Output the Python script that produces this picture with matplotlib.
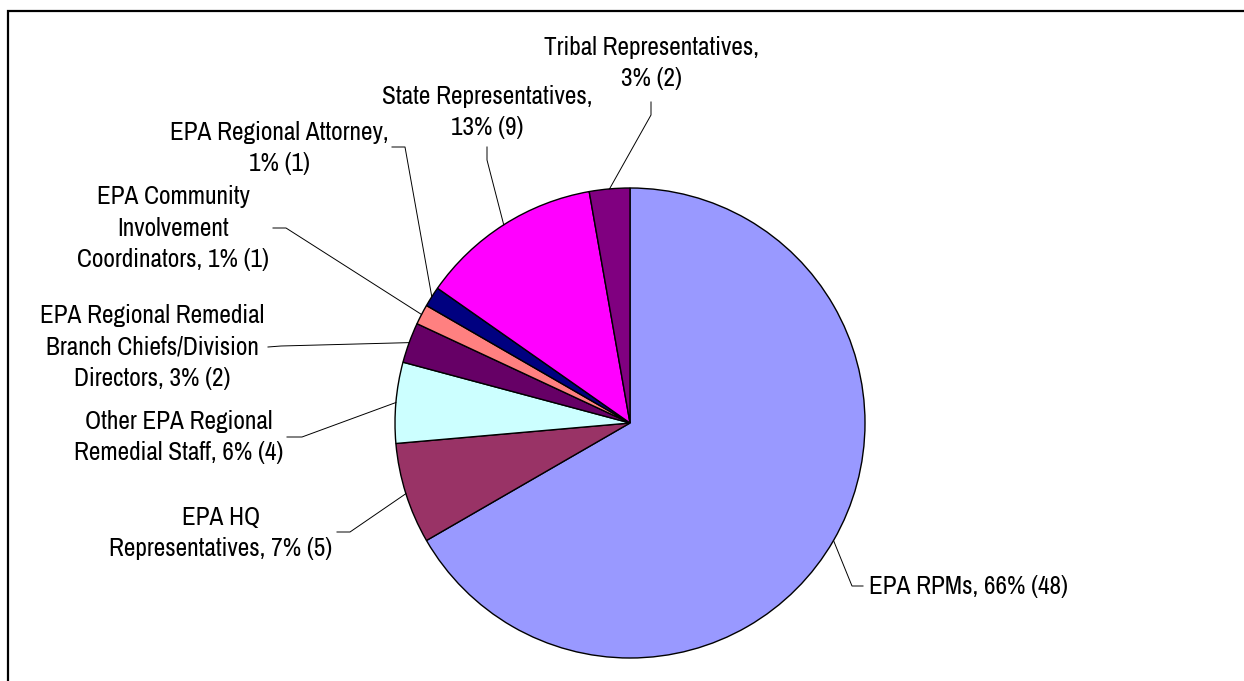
import numpy as np
import matplotlib
matplotlib.use('Agg')
import matplotlib.pyplot as plt
from matplotlib.patches import Rectangle

plt.rcParams['font.family'] = ['Archivo Narrow', 'DejaVu Sans']

# data
groups = ['EPA RPMs', 'EPA HQ Representatives', 'Other EPA Regional Remedial Staff',
          'EPA Regional Remedial Branch Chiefs/Division Directors',
          'EPA Community Involvement Coordinators', 'EPA Regional Attorney',
          'State Representatives', 'Tribal Representatives']
counts = [48, 5, 4, 2, 1, 1, 9, 2]
percents = [66, 7, 6, 3, 1, 1, 13, 3]
colors = ['#9999FF', '#993366', '#CCFFFF', '#660066', '#FF8080', '#000080', '#FF00FF', '#800080']

label_texts = [
    'EPA RPMs, 66% (48)',
    'EPA HQ\nRepresentatives, 7% (5)',
    'Other EPA Regional\nRemedial Staff, 6% (4)',
    'EPA Regional Remedial\nBranch Chiefs/Division\nDirectors, 3% (2)',
    'EPA Community\nInvolvement\nCoordinators, 1% (1)',
    'EPA Regional Attorney,\n1% (1)',
    'State Representatives,\n13% (9)',
    'Tribal Representatives,\n3% (2)',
]

# layout, in pixels measured from the top-left corner
W, H = 1244, 681
cx, cy, R = 630, 423, 235
# (text x, text y, ha, anchor point, elbow point)
layout = [
    (869, 586, 'left', (863, 586), (852, 586)),
    (221, 533, 'center', (337, 532), (350, 532)),
    (179, 437, 'center', (287, 437), (302, 437)),
    (152, 347, 'center', (268, 347), (281, 346)),
    (173, 228, 'center', (273, 228), (286, 228)),
    (279, 148, 'center', (392, 147), (405, 147)),
    (487, 112, 'center', (487, 147), (487, 160)),
    (651, 63, 'center', (651, 102), (651, 115)),
]

fig = plt.figure(figsize=(W / 100, H / 100), dpi=100)
ax = fig.add_axes([0, 0, 1, 1])

wedges, _ = ax.pie(counts, colors=colors, startangle=90, counterclock=False,
                   center=(cx, H - cy), radius=R,
                   wedgeprops=dict(edgecolor='black', linewidth=1.0))
ax.set_xlim(0, W)
ax.set_ylim(0, H)
ax.set_aspect('auto')
ax.axis('off')

for w, txt, (tx, ty, ha, anchor, elbow) in zip(wedges, label_texts, layout):
    ang = np.deg2rad((w.theta1 + w.theta2) / 2)
    px = cx + R * np.cos(ang)
    py = (H - cy) + R * np.sin(ang)
    ax.plot([anchor[0], elbow[0], px], [H - anchor[1], H - elbow[1], py],
            color='black', lw=0.7)
    ax.text(tx, H - ty, txt, ha=ha, va='center', fontsize=18.2,
            linespacing=1.45, color='black')

# outer frame (right and bottom sides run off the picture)
fig.add_artist(Rectangle((8 / W, -0.1), 2, 1 - 11 / H + 0.1, transform=fig.transFigure,
                         fill=False, edgecolor='black', linewidth=1.6))

fig.savefig('out.png', dpi=100)
